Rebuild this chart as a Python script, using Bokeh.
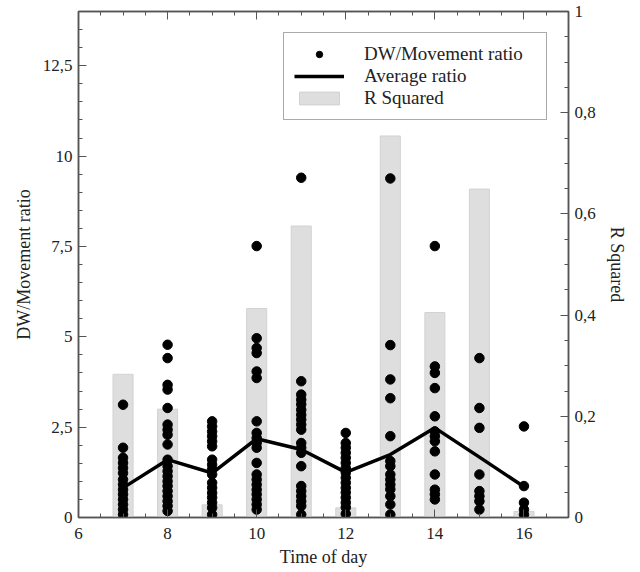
from bokeh.plotting import figure
from bokeh.models import (Range1d, LinearAxis, FixedTicker, CustomJSTickFormatter,
                          Legend, LegendItem)
from bokeh.embed import file_html
from bokeh.resources import INLINE

# ---- data ----
hours = [7, 8, 9, 10, 11, 12, 13, 14, 15, 16]
r_squared = [0.283, 0.214, 0.025, 0.413, 0.576, 0.019, 0.754, 0.405, 0.649, 0.012]
average_ratio = [0.82, 1.60, 1.23, 2.18, 1.88, 1.25, 1.74, 2.48, 1.67, 0.85]

ratio_h7 = [3.12, 1.93, 1.65, 1.51, 1.37, 1.23, 1.05, 0.91, 0.77, 0.64, 0.50, 0.36, 0.22, 0.08]
ratio_h8 = [4.78, 4.41, 3.67, 3.54, 3.03, 2.57, 2.43, 2.29, 2.02, 1.60, 1.42, 1.28, 1.14,
            1.00, 0.87, 0.73, 0.59, 0.45, 0.32, 0.18]
ratio_h9 = [2.66, 2.52, 2.38, 2.25, 2.11, 1.97, 1.60, 1.46, 1.33, 1.19, 0.96, 0.82, 0.68,
            0.55, 0.41, 0.27, 0.08]
ratio_h10 = [7.51, 4.96, 4.69, 4.55, 4.04, 3.86, 2.66, 2.34, 2.20, 2.06, 1.93, 1.51, 1.19,
             1.05, 0.91, 0.77, 0.64, 0.50, 0.36, 0.22]
ratio_h11 = [9.40, 3.77, 3.40, 3.26, 3.13, 2.98, 2.84, 2.71, 2.57, 2.43, 2.06, 1.93, 1.79,
             1.42, 0.87, 0.73, 0.59, 0.45, 0.32, 0.08]
ratio_h12 = [2.34, 2.06, 1.93, 1.79, 1.65, 1.51, 1.37, 1.24, 1.10, 0.96, 0.82, 0.69, 0.55,
             0.41, 0.28, 0.10]
ratio_h13 = [9.38, 4.77, 3.82, 3.30, 2.25, 1.56, 1.42, 1.19, 1.05, 0.91, 0.78, 0.59, 0.36, 0.08]
ratio_h14 = [7.51, 4.18, 4.00, 3.58, 2.80, 2.38, 2.25, 2.11, 1.83, 1.19, 0.77, 0.64, 0.50]
ratio_h15 = [4.41, 3.03, 2.48, 1.19, 0.73, 0.59, 0.45, 0.22]
ratio_h16 = [2.52, 0.87, 0.41, 0.22, 0.08]

ratios_by_hour = [ratio_h7, ratio_h8, ratio_h9, ratio_h10, ratio_h11,
                  ratio_h12, ratio_h13, ratio_h14, ratio_h15, ratio_h16]

left_ticks = [0, 2.5, 5, 7.5, 10, 12.5]
right_ticks = [0, 0.2, 0.4, 0.6, 0.8, 1]
x_ticks = [6, 8, 10, 12, 14, 16]

dot_x, dot_y = [], []
for h, vals in zip(hours, ratios_by_hour):
    for v in vals:
        dot_x.append(h)
        dot_y.append(v)

FONT = "Liberation Serif"
AX = "#555555"

p = figure(width=632, height=569, x_range=Range1d(6, 17), y_range=Range1d(0, 14),
           output_backend="svg", toolbar_location=None,
           min_border_left=78, min_border_right=64, min_border_top=11, min_border_bottom=48,
           background_fill_color="white", border_fill_color="white")
p.extra_y_ranges = {"r2": Range1d(0, 1)}
p.xgrid.visible = False
p.ygrid.visible = False
p.outline_line_color = AX
p.outline_line_width = 1.5

comma = CustomJSTickFormatter(code="return tick.toString().replace('.', ',');")
blank = CustomJSTickFormatter(code="return '';")

def style(ax):
    ax.axis_line_color = AX
    ax.axis_line_width = 1.5
    ax.major_tick_line_color = AX
    ax.minor_tick_line_color = AX
    ax.major_tick_in = 8
    ax.major_tick_out = 0
    ax.minor_tick_in = 4
    ax.minor_tick_out = 0
    ax.major_label_text_font = FONT
    ax.major_label_text_font_size = "17px"
    ax.major_label_text_color = "#222222"
    ax.axis_label_text_font = FONT
    ax.axis_label_text_font_size = "18px"
    ax.axis_label_text_font_style = "normal"
    ax.axis_label_text_color = "#222222"

x_minor = [6 + 0.5 * i for i in range(23)]

# bottom x axis
xa = p.xaxis[0]
xa.ticker = FixedTicker(ticks=x_ticks, minor_ticks=x_minor)
xa.formatter = comma
xa.axis_label = "Time of day"
style(xa)
xa.major_label_standoff = 10
xa.axis_label_standoff = 5

# left y axis
ya = p.yaxis[0]
ya.ticker = FixedTicker(ticks=left_ticks, minor_ticks=[0.5 * i for i in range(29)])
ya.formatter = comma
ya.axis_label = "DW/Movement ratio"
style(ya)
ya.major_label_standoff = 6
ya.axis_label_standoff = 6

# top mirror axis (ticks only)
ta = LinearAxis(ticker=FixedTicker(ticks=x_ticks, minor_ticks=x_minor), formatter=blank)
style(ta)
ta.major_label_text_font_size = "1px"
ta.major_label_standoff = 0
p.add_layout(ta, "above")

# right axis R squared
ra = LinearAxis(y_range_name="r2",
                ticker=FixedTicker(ticks=right_ticks, minor_ticks=[0.05 * i for i in range(21)]),
                formatter=comma, axis_label="R Squared")
style(ra)
ra.major_label_standoff = 6
ra.axis_label_standoff = 8
p.add_layout(ra, "right")

bars = p.vbar(x=hours, top=r_squared, width=0.45, bottom=0, y_range_name="r2",
              fill_color="#dedede", line_color="#d2d2d2", line_width=1)
dots = p.scatter(x=dot_x, y=dot_y, size=9.5, marker="circle",
                 fill_color="black", line_color="black")
line = p.line(x=hours, y=average_ratio, line_color="black", line_width=3.5)

legend = Legend(items=[LegendItem(label="DW/Movement ratio", renderers=[dots]),
                       LegendItem(label="Average ratio", renderers=[line]),
                       LegendItem(label="R Squared", renderers=[bars])],
                location="top_right", margin=21, padding=10, spacing=0,
                glyph_width=50, glyph_height=16, label_height=16, label_width=172,
                label_standoff=20,
                label_text_font=FONT, label_text_font_size="19px", label_text_color="#222222",
                border_line_color=AX, border_line_width=1.5,
                background_fill_color="white", background_fill_alpha=1)
p.add_layout(legend)

open("out.html", "w").write(file_html(p, INLINE))
